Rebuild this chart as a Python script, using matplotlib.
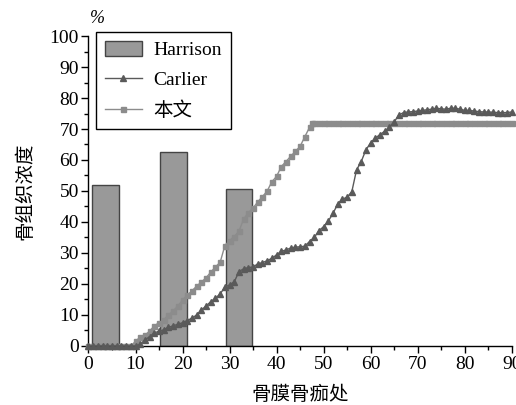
import matplotlib
matplotlib.use("Agg")
import matplotlib.pyplot as plt
import matplotlib.patches as mpatches
from matplotlib.lines import Line2D
from matplotlib.ticker import MultipleLocator

# ── Data ────────────────────────────────────────────────────
harrison_x = [3.6, 18.0, 32.0]
harrison_y = [52, 62.5, 50.5]

carlier_x = list(range(0, 91))
carlier_y = [0, 0, 0, 0, 0, 0, 0, 0, 0, 0, 0,
             0.5, 2, 3, 4.2, 4.8, 5.2, 6, 6.5, 7, 7.5,
             8.2, 9, 10, 11.6, 12.9, 14.3, 15.4, 16.8, 19, 19.7,
             20.7, 24, 24.9, 25.3, 25.5, 26.5, 26.9, 27.5, 28.3, 29.4,
             30.5, 31, 31.6, 31.9, 32, 32.2, 33.7, 35, 37.2, 38.5,
             40.3, 42.8, 45.8, 47.4, 48, 49.8, 56.8, 59.5, 63.3, 65.5,
             67.1, 68.2, 69.3, 70.6, 72.3, 74.5, 75.3, 75.5, 75.6, 75.8,
             76, 76.2, 76.4, 76.7, 76.5, 76.4, 76.7, 76.7, 76.4, 76,
             76, 75.8, 75.6, 75.5, 75.5, 75.4, 75.3, 75.3, 75.3, 75.5]

ours_x = list(range(0, 48)) + [47.5] + list(range(48, 91))
ours_y = [0, 0, 0, 0, 0, 0, 0, 0, 0, 0,
          1.5, 2.9, 3.5, 4.8, 6.5, 7.5, 8.4, 10, 11.3, 12.9,
          14.8, 16.4, 17.8, 19.3, 20.6, 22, 23.8, 25.5, 27, 32.4,
          34, 35.3, 37, 41, 43, 44.5, 46.5, 48.2, 50, 53,
          54.7, 57.9, 59.5, 61.2, 62.8, 64.4, 67.5, 70.5, 72] + [72] * 43

# ── Style ───────────────────────────────────────────────────
plt.rcParams["font.family"] = ["Liberation Serif", "Noto Sans CJK SC"]
plt.rcParams["font.size"] = 14
BAR_FILL = "#999999"
BAR_EDGE = "#444444"
DARK = "#5a5a5a"
LIGHT = "#8c8c8c"

fig = plt.figure(figsize=(5.16, 4.05), dpi=100)
ax = fig.add_axes([0.1715, 0.1457, 0.8202, 0.7654])

ax.bar(harrison_x, harrison_y, width=5.7, color=BAR_FILL,
       edgecolor=BAR_EDGE, linewidth=1.0, zorder=1)
ax.plot(carlier_x, carlier_y, color=DARK, lw=1.0, marker="^",
        markersize=5, zorder=3, clip_on=False)
ax.plot(ours_x, ours_y, color=LIGHT, lw=1.0, marker="s",
        markersize=3.6, zorder=2, clip_on=False)

ax.set_xlim(0, 90)
ax.set_ylim(0, 100)
ax.xaxis.set_major_locator(MultipleLocator(10))
ax.xaxis.set_minor_locator(MultipleLocator(5))
ax.yaxis.set_major_locator(MultipleLocator(10))
ax.yaxis.set_minor_locator(MultipleLocator(5))
ax.tick_params(which="major", direction="out", length=5, width=1,
               labelsize=14, pad=2)
ax.tick_params(which="minor", direction="out", length=3, width=1)
for side in ("top", "right"):
    ax.spines[side].set_visible(False)
for side in ("left", "bottom"):
    ax.spines[side].set_linewidth(1.0)

ax.set_xlabel("骨膜骨痂处", fontsize=14, family=["Noto Sans CJK SC"],
              labelpad=8)
ax.set_ylabel("骨组织浓度", fontsize=14, family=["Noto Sans CJK SC"],
              labelpad=10)
fig.text(0.188, 0.955, "%", fontsize=13, style="italic",
         ha="center", va="center")

handles = [
    mpatches.Patch(facecolor=BAR_FILL, edgecolor=BAR_EDGE, label="Harrison"),
    Line2D([], [], color=DARK, lw=1.0, marker="^", markersize=5, label="Carlier"),
    Line2D([], [], color=LIGHT, lw=1.0, marker="s", markersize=3.6, label="本文"),
]
leg = ax.legend(handles=handles, loc="upper left", bbox_to_anchor=(0.018, 1.012),
                borderaxespad=0, fancybox=False, edgecolor="black",
                framealpha=1, fontsize=14, handlelength=1.9,
                handleheight=0.8, labelspacing=0.62, borderpad=0.45,
                handletextpad=0.6)
leg.get_frame().set_linewidth(1.0)
for t in leg.get_texts():
    t.set_fontfamily(["Liberation Serif", "Noto Sans CJK SC"])

fig.savefig("out.png", dpi=100)
